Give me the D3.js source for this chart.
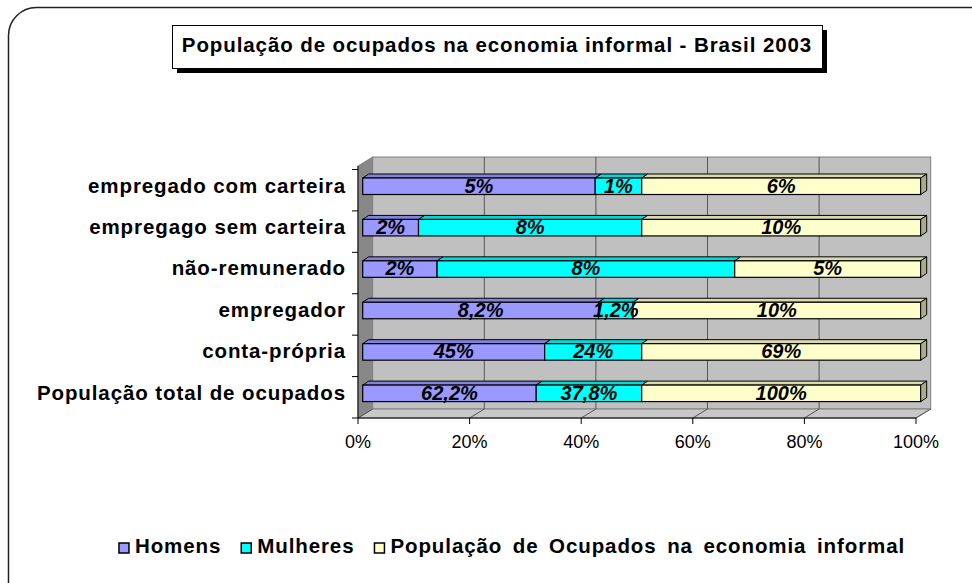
<!DOCTYPE html>
<html>
<head>
<meta charset="utf-8">
<script src="https://cdn.jsdelivr.net/npm/d3@7"></script>
<style>
  body { margin: 0; background: #fff; }
  svg text { font-family: "Liberation Sans", Arial, sans-serif; }
</style>
</head>
<body>
<div id="chart"></div>
<script>
// dados (de cima para baixo)
var categories = ["empregado com carteira", "empregago sem carteira", "não-remunerado",
                  "empregador", "conta-própria", "População total de ocupados"];
var homens = [5, 2, 2, 8.2, 45, 62.2];
var mulheres = [1, 8, 8, 1.2, 24, 37.8];
var ocupadosInformal = [6, 10, 5, 10, 69, 100];
var seriesNames = ["Homens", "Mulheres", "População de Ocupados na economia informal"];
var seriesColors = ["#9999FF", "#00FFFF", "#FFFFCC"];
var tickValues = [0, 0.2, 0.4, 0.6, 0.8, 1];
var tickLabels = ["0%", "20%", "40%", "60%", "80%", "100%"];
var title = "População de ocupados na economia informal - Brasil 2003";

var rows = categories.map(function(c, i) {
    var r = { cat: c };
    r[seriesNames[0]] = homens[i];
    r[seriesNames[1]] = mulheres[i];
    r[seriesNames[2]] = ocupadosInformal[i];
    return r;
});

var svg = d3.select("#chart").append("svg")
    .attr("width", 972)
    .attr("height", 583);

// moldura arredondada
svg.append("rect")
    .attr("x", 8.5).attr("y", 7.5)
    .attr("width", 1000).attr("height", 620)
    .attr("rx", 28).attr("ry", 28)
    .attr("fill", "#fff").attr("stroke", "#222").attr("stroke-width", 1.5);

var xScale = d3.scaleLinear().domain([0, 1]).range([358, 916]);
var yScale = d3.scaleBand().domain(categories).range([169.5, 418]);

// profundidade 3D
var dx = 14.7, dy = -9;
var top0 = 166, floorY = 418;

// parede esquerda
svg.append("polygon")
    .attr("points", [[358, top0], [358 + dx, top0 + dy], [358 + dx, floorY + dy], [358, floorY]].join(" "))
    .attr("fill", "#888888").attr("stroke", "#808080");

// parede do fundo
svg.append("rect")
    .attr("x", 358 + dx).attr("y", top0 + dy)
    .attr("width", 558).attr("height", floorY - top0)
    .attr("fill", "#C0C0C0").attr("stroke", "#808080");

// piso
svg.append("polygon")
    .attr("points", [[358, floorY], [916, floorY], [916 + dx, floorY + dy], [358 + dx, floorY + dy]].join(" "))
    .attr("fill", "#C8C8C8").attr("stroke", "#808080");

// grades
svg.selectAll(".grid")
    .data(tickValues.slice(1, -1))
    .enter().append("line")
    .attr("x1", function(d) { return xScale(d) + dx; })
    .attr("x2", function(d) { return xScale(d) + dx; })
    .attr("y1", top0 + dy).attr("y2", floorY + dy)
    .attr("stroke", "#555").attr("stroke-width", 1);

svg.selectAll(".floorline")
    .data(tickValues)
    .enter().append("line")
    .attr("x1", function(d) { return xScale(d) + dx; })
    .attr("x2", function(d) { return xScale(d); })
    .attr("y1", floorY + dy).attr("y2", floorY)
    .attr("stroke", "#555").attr("stroke-width", 1);

// eixos
svg.append("line").attr("x1", 358).attr("x2", 358).attr("y1", top0).attr("y2", floorY)
    .attr("stroke", "#000");
svg.append("line").attr("x1", 358).attr("x2", 916).attr("y1", floorY).attr("y2", floorY)
    .attr("stroke", "#000");

var bandEdges = categories.map(function(c) { return yScale(c); }).concat([yScale.range()[1]]);
svg.selectAll(".ytick")
    .data(bandEdges)
    .enter().append("line")
    .attr("x1", 352).attr("x2", 358)
    .attr("y1", function(d) { return d; }).attr("y2", function(d) { return d; })
    .attr("stroke", "#000");

svg.selectAll(".xtick")
    .data(tickValues)
    .enter().append("line")
    .attr("x1", function(d) { return xScale(d); }).attr("x2", function(d) { return xScale(d); })
    .attr("y1", floorY).attr("y2", floorY + 6)
    .attr("stroke", "#000");

svg.selectAll(".xlabel")
    .data(tickValues)
    .enter().append("text")
    .attr("x", function(d) { return xScale(d); })
    .attr("y", 443)
    .attr("text-anchor", "middle")
    .attr("dominant-baseline", "middle")
    .attr("font-size", 18)
    .text(function(d, i) { return tickLabels[i]; });

svg.selectAll(".ylabel")
    .data(categories)
    .enter().append("text")
    .attr("x", 346)
    .attr("y", function(d) { return yScale(d) + yScale.bandwidth() / 2 - 3; })
    .attr("text-anchor", "end")
    .attr("dominant-baseline", "middle")
    .attr("font-size", 20.5)
    .attr("font-weight", "bold")
    .attr("letter-spacing", 0.9)
    .text(function(d) { return d; });

// barras empilhadas 100%
var stack = d3.stack().keys(seriesNames).offset(d3.stackOffsetExpand);
var stacked = stack(rows);

var bx = 4.7, byTop = 8.5, bh = 16.5, bdx = 6, bdy = -4;

stacked.forEach(function(layer, si) {
    var col = d3.color(seriesColors[si]);
    var g = svg.append("g");
    layer.forEach(function(d) {
        var x0 = xScale(d[0]) + bx, x1 = xScale(d[1]) + bx;
        var y0 = yScale(d.data.cat) + byTop, y1 = y0 + bh;
        g.append("polygon")
            .attr("points", [[x0, y0], [x1, y0], [x1 + bdx, y0 + bdy], [x0 + bdx, y0 + bdy]].join(" "))
            .attr("fill", col.darker(0.45)).attr("stroke", "#000").attr("stroke-width", 1);
        g.append("rect")
            .attr("x", x0).attr("y", y0).attr("width", x1 - x0).attr("height", bh)
            .attr("fill", col).attr("stroke", "#000").attr("stroke-width", 1.2);
        if (si === stacked.length - 1) {
            g.append("polygon")
                .attr("points", [[x1, y0], [x1 + bdx, y0 + bdy], [x1 + bdx, y1 + bdy], [x1, y1]].join(" "))
                .attr("fill", col.darker(1.1)).attr("stroke", "#000").attr("stroke-width", 1);
        }
    });
});

// rótulos dos valores
stacked.forEach(function(layer, si) {
    svg.append("g").selectAll("text")
        .data(layer)
        .enter().append("text")
        .attr("x", function(d) { return (xScale(d[0]) + xScale(d[1])) / 2 + bx; })
        .attr("y", function(d) { return yScale(d.data.cat) + byTop + bh / 2 + 1; })
        .attr("text-anchor", "middle")
        .attr("dominant-baseline", "middle")
        .attr("font-size", 20)
        .attr("font-weight", "bold")
        .attr("font-style", "italic")
        .text(function(d) { return String(d.data[seriesNames[si]]).replace(".", ",") + "%"; });
});

// título
svg.append("rect").attr("x", 177).attr("y", 30).attr("width", 650).attr("height", 43).attr("fill", "#000");
svg.append("rect").attr("x", 172.5).attr("y", 25.5).attr("width", 650).attr("height", 43)
    .attr("fill", "#fff").attr("stroke", "#000").attr("stroke-width", 1);
svg.append("text")
    .attr("x", 497).attr("y", 47)
    .attr("text-anchor", "middle")
    .attr("dominant-baseline", "middle")
    .attr("font-size", 20.5)
    .attr("font-weight", "bold")
    .attr("letter-spacing", 0.9)
    .text(title);

// legenda
var legend = svg.append("g");
var lx = 0;
seriesNames.forEach(function(name, i) {
    var item = legend.append("g").attr("transform", "translate(" + lx + ",0)");
    item.append("rect").attr("x", 0).attr("y", -5).attr("width", 10).attr("height", 10)
        .attr("fill", seriesColors[i]).attr("stroke", "#000").attr("stroke-width", 1.5);
    var t = item.append("text").attr("x", 16).attr("y", 0)
        .attr("dominant-baseline", "middle")
        .attr("font-size", 20.5).attr("font-weight", "bold").attr("letter-spacing", 0.9)
        .attr("word-spacing", 4)
        .text(name);
    lx += 16 + t.node().getComputedTextLength() + 20;
});
legend.attr("transform", "translate(" + (512 - (lx - 20) / 2) + ",548)");
</script>
</body>
</html>
